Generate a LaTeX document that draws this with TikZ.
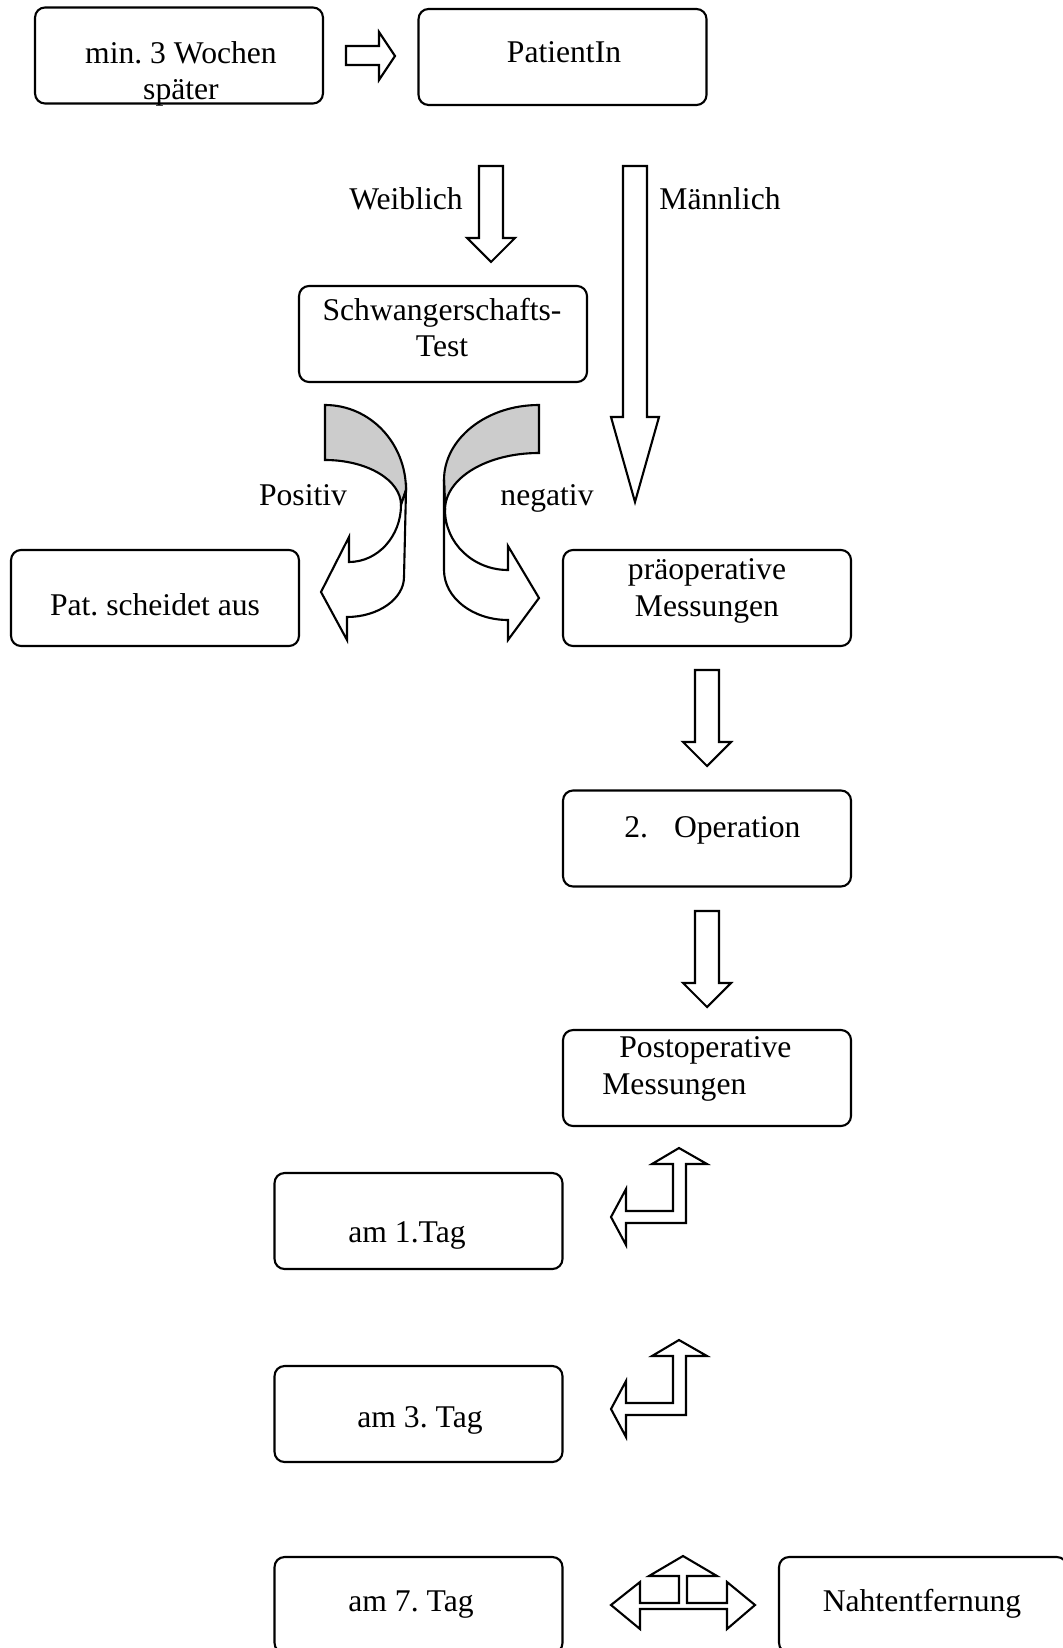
\documentclass[tikz,border=0pt]{standalone}
\usepackage{fontspec}
\setmainfont{Liberation Serif}
\frenchspacing

\begin{document}
\begin{tikzpicture}[
    x=0.02cm, y=-0.02cm,
    box/.style={rectangle, draw, rounded corners=0.2cm, minimum width=5.76cm,
                minimum height=1.92cm, line width=1.2pt, inner sep=0pt},
    txt/.style={font=\fontsize{18}{21}\selectfont, inner sep=0pt, anchor=base, align=center},
    blockarr/.style={draw, line width=1.2pt, fill=white},
    backside/.style={draw, line width=1.2pt, fill=black!20}
]
\useasboundingbox (0,0) rectangle (1062,1648);

% boxes
\node[box] (wochen)  at (179,55.5)  {};
\node[box] (patient) at (562.5,57)  {};
\node[box] (test)    at (443,334)   {};
\node[box] (aus)     at (155,598)   {};
\node[box] (praeop)  at (707,598)   {};
\node[box] (op)      at (707,838.5) {};
\node[box] (postop)  at (707,1078)  {};
\node[box] (tag1)    at (418.5,1221) {};
\node[box] (tag3)    at (418.5,1414) {};
\node[box] (tag7)    at (418.5,1605) {};
\node[box] (naht)    at (923,1605)  {};

% texts (multi-line: last baseline)
\node[txt] (wochen-t)  at (181,100)  {min. 3 Wochen\\später};
\node[txt] (patient-t) at (564,63)   {PatientIn};
\node[txt] (test-t)    at (442,357)  {Schwangerschafts-\\Test};
\node[txt] (aus-t)     at (155,615)  {Pat. scheidet aus};
\node[txt] (praeop-t)  at (707,616)  {präoperative\\Messungen};
\node[txt, anchor=base west] (op-t) at (624,837) {2.\hspace{0.52cm}Operation};
\node[txt, anchor=base west, align=left] (postop-t) at (602,1094) {\hspace*{0.34cm}Postoperative\\Messungen};
\node[txt] (tag1-t)    at (407,1242) {am 1.Tag};
\node[txt] (tag3-t)    at (420,1427) {am 3. Tag};
\node[txt] (tag7-t)    at (411,1611) {am 7. Tag};
\node[txt] (naht-t)    at (922,1611) {Nahtentfernung};

% labels
\node[txt] (weiblich)  at (406,210) {Weiblich};
\node[txt] (maennlich) at (720,210) {Männlich};
\node[txt] (positiv)   at (303,505) {Positiv};
\node[txt] (negativ)   at (547,505) {negativ};

% straight block arrows
\draw[blockarr] (346,46) -- (379,46) -- (379,32) -- (395,56) -- (379,80) -- (379,65) -- (346,65) -- cycle;
\foreach \x/\y in {491/166, 707/670, 707/911}
  \draw[blockarr] ({\x-12},\y) -- ({\x+12},\y) -- ({\x+12},{\y+72}) -- ({\x+24},{\y+72})
                  -- (\x,{\y+96}) -- ({\x-24},{\y+72}) -- ({\x-12},{\y+72}) -- cycle;
\draw[blockarr] (623,166) -- (647,166) -- (647,417) -- (659,417) -- (635,502) -- (611,417) -- (623,417) -- cycle;

% curved arrows
\draw[backside] (325,405) .. controls (370,405) and (406,443) .. (406,490)
                -- (401,505) .. controls (401,480) and (367,460) .. (325,460) -- cycle;
\draw[blockarr] (406,490) -- (404,577) .. controls (404,599) and (378,617) .. (347,617)
                -- (347,640) -- (321,592) -- (349,537) -- (349,562)
                .. controls (378,562) and (401,536) .. (401,505) -- cycle;
\draw[backside] (539,405) .. controls (486,405) and (444,439) .. (444,480)
                -- (445,510) .. controls (445,478) and (487,453) .. (539,453) -- cycle;
\draw[blockarr] (444,480) -- (444,570) .. controls (444,598) and (473,620) .. (508,620)
                -- (508,640) -- (539,598) -- (508,546) -- (508,570)
                .. controls (473,570) and (445,543) .. (445,510) -- cycle;

% bent arrows
\foreach \d in {0,192}
  \draw[blockarr] (679,{1148+\d}) -- (707,{1164+\d}) -- (686,{1164+\d}) -- (686,{1223+\d})
                  -- (626,{1223+\d}) -- (626,{1245+\d}) -- (611,{1217+\d}) -- (626,{1189+\d})
                  -- (626,{1211+\d}) -- (673,{1211+\d}) -- (673,{1164+\d}) -- (652,{1164+\d}) -- cycle;

% three-way arrow
\draw[blockarr] (683,1556) -- (717,1576) -- (687,1576) -- (687,1603) -- (727,1603) -- (727,1582)
                -- (755,1605) -- (727,1629) -- (727,1609) -- (640,1609) -- (640,1629) -- (611,1605)
                -- (640,1582) -- (640,1603) -- (679,1603) -- (679,1576) -- (649,1576) -- cycle;
\end{tikzpicture}
\end{document}
